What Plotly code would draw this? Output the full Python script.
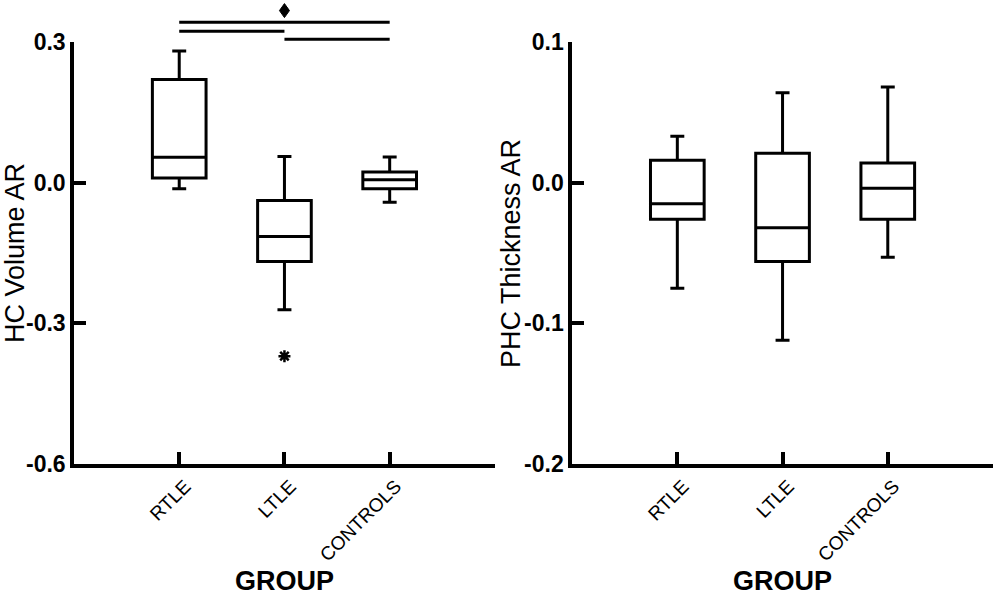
import plotly.graph_objects as go
from plotly.subplots import make_subplots

groups = ['RTLE', 'LTLE', 'CONTROLS']

# HC volume asymmetry ratio (left panel)
hc_min = [-0.013, -0.271, -0.042]
hc_q1 = [0.010, -0.168, -0.013]
hc_median = [0.054, -0.115, 0.006]
hc_q3 = [0.220, -0.038, 0.023]
hc_max = [0.281, 0.056, 0.055]
hc_outlier_group = ['LTLE']
hc_outlier_value = [-0.370]

# PHC thickness asymmetry ratio (right panel)
phc_min = [-0.075, -0.112, -0.053]
phc_q1 = [-0.026, -0.056, -0.026]
phc_median = [-0.015, -0.032, -0.004]
phc_q3 = [0.016, 0.021, 0.014]
phc_max = [0.033, 0.064, 0.068]

# significance bars over the left panel: (from group, to group, height in y units)
sig_bars = [('RTLE', 'CONTROLS', 0.342), ('RTLE', 'LTLE', 0.323), ('LTLE', 'CONTROLS', 0.306)]
sig_mark = ('LTLE', 0.367)

hc_range = [-0.6, 0.3]
phc_range = [-0.2, 0.1]

pos = {g: i for i, g in enumerate(groups)}
xs = [pos[g] for g in groups]

fig = make_subplots(rows=1, cols=2, horizontal_spacing=0.084)

box_style = dict(
    line=dict(color='black', width=3),
    fillcolor='white',
    width=0.51,
    whiskerwidth=0.26,
    boxpoints=False,
    showlegend=False,
    hoverinfo='skip',
)

fig.add_trace(go.Box(x=xs, q1=hc_q1, median=hc_median, q3=hc_q3,
                     lowerfence=hc_min, upperfence=hc_max, **box_style), row=1, col=1)
fig.add_trace(go.Scatter(x=[pos[g] for g in hc_outlier_group], y=hc_outlier_value,
                         mode='markers', showlegend=False,
                         marker=dict(symbol='asterisk-open', size=10, color='black',
                                     line=dict(color='black', width=2.5))), row=1, col=1)
fig.add_trace(go.Box(x=xs, q1=phc_q1, median=phc_median, q3=phc_q3,
                     lowerfence=phc_min, upperfence=phc_max, **box_style), row=1, col=2)

tick_font = dict(family='Liberation Sans', size=23, color='black', weight='bold')
cat_font = dict(family='Liberation Sans', size=19, color='black')
title_font = dict(family='Liberation Sans', size=27, color='black')
xaxis_style = dict(
    range=[-1, 3], tickvals=[0, 1, 2, 3], ticktext=groups + [''],
    tickangle=-45, tickfont=cat_font, ticklabelshift=6,
    showline=True, linewidth=3.5, linecolor='black',
    ticks='inside', ticklen=12, tickwidth=3.5, tickcolor='black',
    showgrid=False, zeroline=False, automargin=False,
    title=dict(text='GROUP', standoff=8,
               font=dict(family='Liberation Sans', size=27, color='black', weight='bold')),
)
yaxis_style = dict(
    showline=True, linewidth=3.5, linecolor='black',
    ticks='inside', ticklen=12, tickwidth=3.5, tickcolor='black',
    tickfont=tick_font, showgrid=False, zeroline=False, automargin=False,
)

fig.update_xaxes(**xaxis_style)
fig.update_yaxes(**yaxis_style)
fig.update_yaxes(row=1, col=1, range=hc_range, tickvals=[-0.6, -0.3, 0.0, 0.3],
                 ticktext=['-0.6', '-0.3', '0.0', '0.3'])
fig.update_yaxes(row=1, col=2, range=phc_range, tickvals=[-0.2, -0.1, 0.0, 0.1],
                 ticktext=['-0.2', '-0.1', '0.0', '0.1'])

# y titles as annotations so they sit where the original puts them
fig.add_annotation(text='HC Volume AR', xref='paper', yref='paper', x=-0.0642, y=0.5,
                   xanchor='center', yanchor='middle',
                   textangle=-90, showarrow=False, font=title_font)
fig.add_annotation(text='PHC Thickness AR', xref='paper', yref='paper', x=0.4755, y=0.5,
                   xanchor='center', yanchor='middle',
                   textangle=-90, showarrow=False, font=title_font)


def xfrac(g):
    return (pos[g] + 1) / 4


def yfrac(v):
    return (v - hc_range[0]) / (hc_range[1] - hc_range[0])


for a, b, level in sig_bars:
    fig.add_shape(type='line', xref='x domain', yref='y domain',
                  x0=xfrac(a), x1=xfrac(b), y0=yfrac(level), y1=yfrac(level),
                  line=dict(color='black', width=3))

# diamond marker above the bars (half sizes in domain fractions, ~5px by ~7px)
cx, cy = xfrac(sig_mark[0]), yfrac(sig_mark[1])
hw, hh = 0.0119, 0.0166
fig.add_shape(type='path', xref='x domain', yref='y domain',
              path=f'M {cx} {cy + hh} L {cx + hw} {cy} L {cx} {cy - hh} L {cx - hw} {cy} Z',
              fillcolor='black', line=dict(color='black', width=1))

fig.update_layout(
    width=1000, height=596,
    margin=dict(l=74, r=7, t=42, b=132),
    paper_bgcolor='white', plot_bgcolor='white',
    showlegend=False,
)

# drop the browser's default body margin so the figure fills the window
fig.write_html('out.html', config={'displayModeBar': False},
               post_script="document.body.style.margin = '0px';")
